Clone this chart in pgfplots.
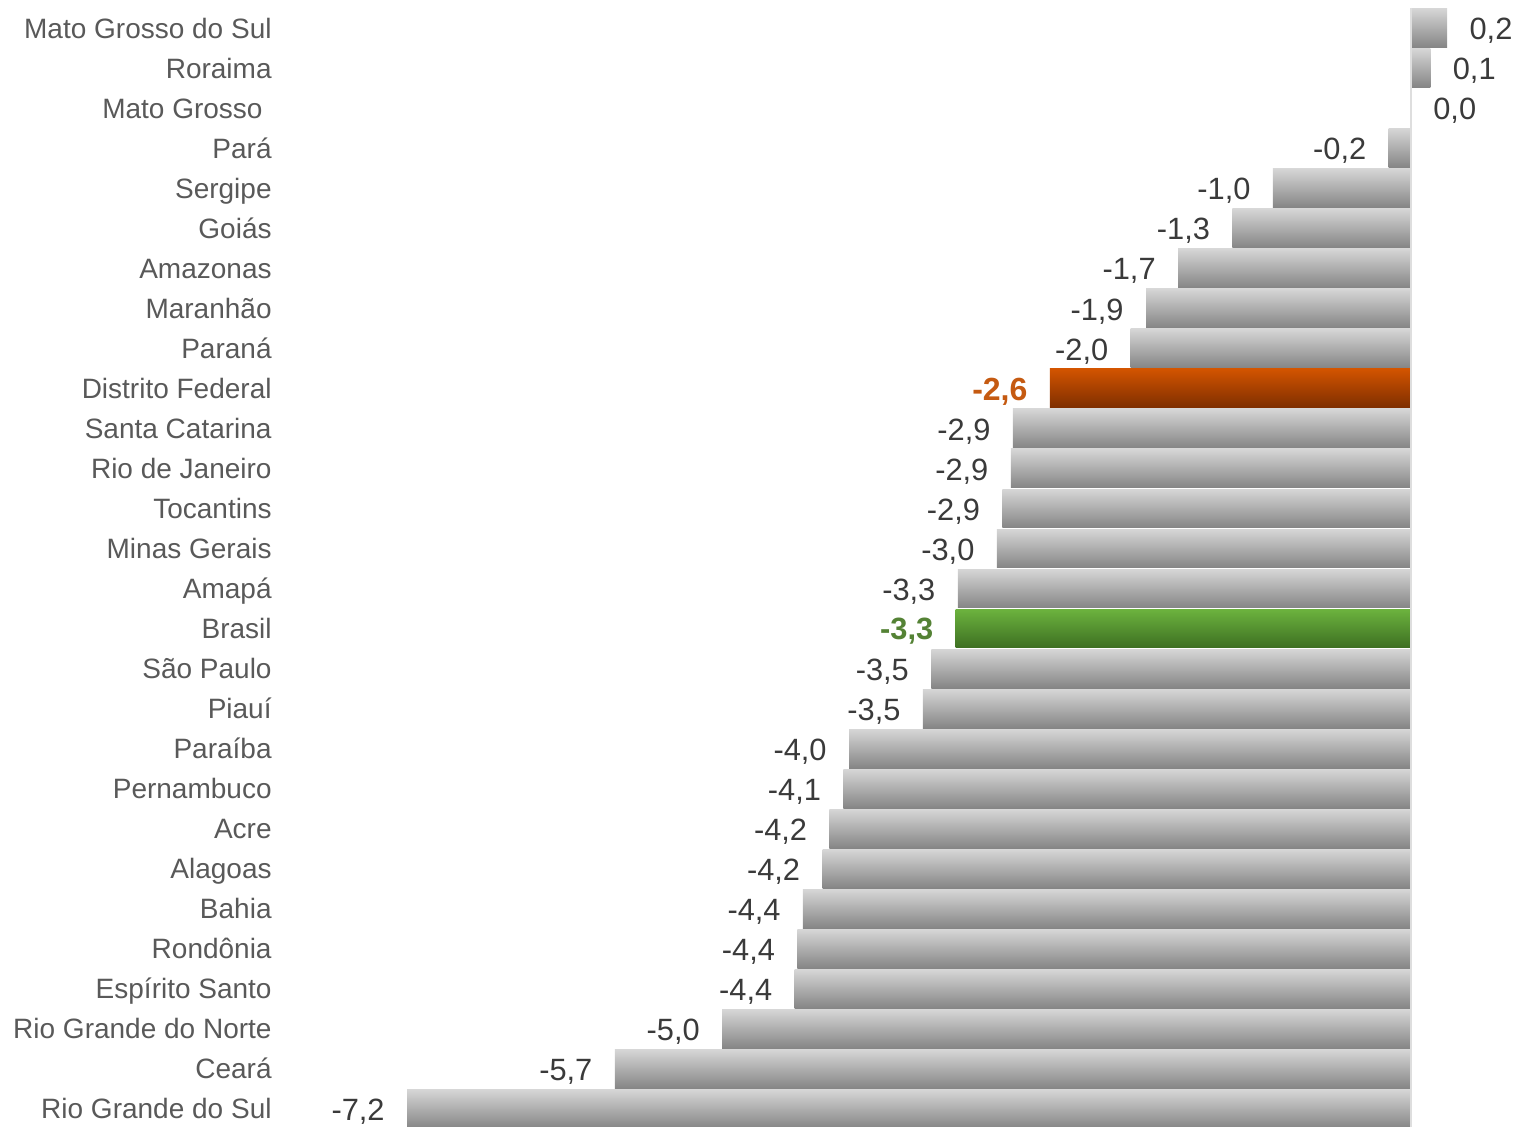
\documentclass[border=0pt]{standalone}
\usepackage{fontspec}
\setmainfont{Liberation Sans}
\usepackage{pgfplots}
\pgfplotsset{compat=1.18}
\definecolor{catgray}{HTML}{595959}
\definecolor{valgray}{HTML}{3A3A3A}
\definecolor{bartop}{HTML}{D6D6D6}
\definecolor{barbot}{HTML}{858585}
\definecolor{ortop}{HTML}{D25400}
\definecolor{orbot}{HTML}{7E2E00}
\definecolor{grtop}{HTML}{6CB33E}
\definecolor{grbot}{HTML}{3D6F22}
\definecolor{orlab}{HTML}{C55A11}
\definecolor{grlab}{HTML}{548235}
\pgfplotsset{
  gneg/.style={draw=none, top color=bartop, bottom color=barbot,
    every node near coord/.append style={anchor=east}},
  gpos/.style={draw=none, top color=bartop, bottom color=barbot,
    every node near coord/.append style={anchor=west}},
}
\begin{document}
\begin{tikzpicture}
\begin{axis}[
  at={(203.5pt,559.5pt)}, anchor=north west,
  scale only axis, width=515.9pt, height=560.5pt,
  xmin=-7.2, xmax=0.2, ymin=-0.5, ymax=27.5, y dir=reverse,
  axis line style={draw=none}, xtick=\empty,
  ytick={0,...,27},
  yticklabels={Mato Grosso do Sul, Roraima, Mato Grosso\rule{4.5pt}{0pt}, Pará, Sergipe, Goiás, Amazonas, Maranhão, Paraná, Distrito Federal, Santa Catarina, Rio de Janeiro, Tocantins, Minas Gerais, Amapá, Brasil, São Paulo, Piauí, Paraíba, Pernambuco, Acre, Alagoas, Bahia, Rondônia, Espírito Santo, Rio Grande do Norte, Ceará, Rio Grande do Sul},
  major tick length=0pt,
  yticklabel style={anchor=base east, inner sep=0pt, xshift=-67.5pt, yshift=-5pt, font=\fontsize{14}{16}\selectfont, text=catgray},
  clip=false,
  xbar, bar width=0.97, bar shift=0pt,
  point meta=explicit,
  nodes near coords={\pgfmathprintnumber[fixed,fixed zerofill,precision=1,use comma,assume math mode=true]{\pgfplotspointmeta}},
  every node near coord/.append style={font=\fontsize{15.4}{17}\selectfont, text=valgray, inner xsep=11pt, inner ysep=0pt, yshift=-1.5pt},
]
\addplot[gpos] coordinates {(0.26,0) [0.2]};
\addplot[gpos] coordinates {(0.14,1) [0.1]};
\addplot[draw=none, fill=none, every node near coord/.append style={anchor=west}]
  coordinates {(0,2) [0.0]};
\addplot[gneg] coordinates {(-0.16,3) [-0.2]};
\addplot[gneg] coordinates {(-0.99,4) [-1.0]};
\addplot[gneg] coordinates {(-1.28,5) [-1.3]};
\addplot[gneg] coordinates {(-1.67,6) [-1.7]};
\addplot[gneg] coordinates {(-1.90,7) [-1.9]};
\addplot[gneg] coordinates {(-2.01,8) [-2.0]};
\addplot[draw=none, top color=ortop, bottom color=orbot,
  every node near coord/.append style={anchor=east, text=orlab, font=\fontsize{16}{18}\selectfont\bfseries}]
  coordinates {(-2.59,9) [-2.6]};
\addplot[gneg] coordinates {(-2.855,10) [-2.9]};
\addplot[gneg] coordinates {(-2.87,11) [-2.9]};
\addplot[gneg] coordinates {(-2.93,12) [-2.9]};
\addplot[gneg] coordinates {(-2.97,13) [-3.0]};
\addplot[gneg] coordinates {(-3.25,14) [-3.3]};
\addplot[draw=none, top color=grtop, bottom color=grbot,
  every node near coord/.append style={anchor=east, text=grlab, font=\fontsize{15.4}{17}\selectfont\bfseries}]
  coordinates {(-3.265,15) [-3.3]};
\addplot[gneg] coordinates {(-3.44,16) [-3.5]};
\addplot[gneg] coordinates {(-3.50,17) [-3.5]};
\addplot[gneg] coordinates {(-4.03,18) [-4.0]};
\addplot[gneg] coordinates {(-4.07,19) [-4.1]};
\addplot[gneg] coordinates {(-4.17,20) [-4.2]};
\addplot[gneg] coordinates {(-4.22,21) [-4.2]};
\addplot[gneg] coordinates {(-4.36,22) [-4.4]};
\addplot[gneg] coordinates {(-4.40,23) [-4.4]};
\addplot[gneg] coordinates {(-4.42,24) [-4.4]};
\addplot[gneg] coordinates {(-4.94,25) [-5.0]};
\addplot[gneg] coordinates {(-5.71,26) [-5.7]};
\addplot[gneg] coordinates {(-7.20,27) [-7.2]};
\draw[color=black!13, line width=1pt] (axis cs:0,-0.5) -- (axis cs:0,27.5);
\end{axis}
\pgfresetboundingbox
\useasboundingbox (0,0) rectangle (759.5pt,563.5pt);
\end{tikzpicture}
\end{document}
